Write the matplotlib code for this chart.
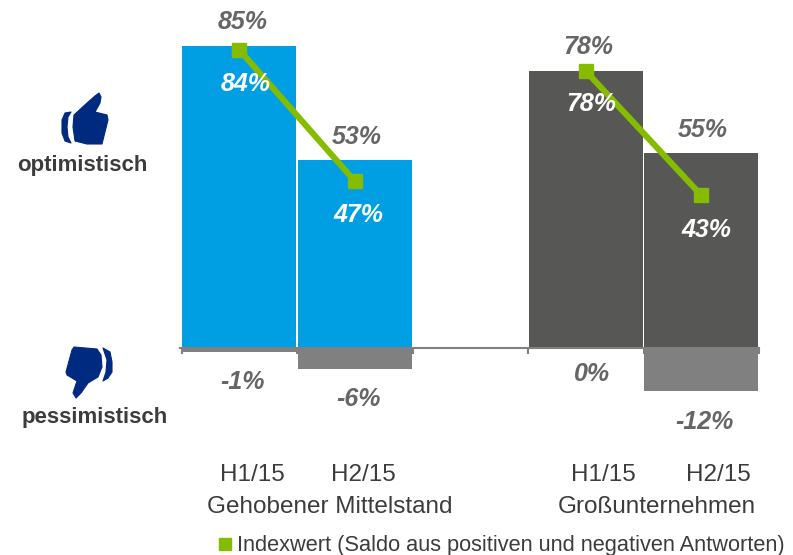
import matplotlib
matplotlib.use('Agg')
import matplotlib.pyplot as plt
from matplotlib.lines import Line2D
from matplotlib.patches import Polygon

plt.rcParams['font.family'] = ['Liberation Sans', 'DejaVu Sans']

# data
periods = ['H1/15', 'H2/15', 'H1/15', 'H2/15']
groups = ['Gehobener Mittelstand', 'Großunternehmen']
positions = [0, 1, 3, 4]
optimistic = [85, 53, 78, 55]
pessimistic = [-1, -6, 0, -12]
index_values = [84, 47, 78, 43]

BLUE = '#009FE3'
DARK = '#575756'
GREY = '#808080'
GREEN = '#85BC00'
NAVY = '#002A7F'
LABEL = '#666666'
TEXT = '#3C3C3C'

fig = plt.figure(figsize=(7.93, 5.55), dpi=100)
ax = fig.add_axes([0, 0, 1, 1])
ax.set_xlim(-239.3 / 115.5, (793 - 239.3) / 115.5)
ax.set_ylim(-207 / 3.55, 348 / 3.55)
ax.patch.set_alpha(0)

# bars
width = 0.988
ax.bar(positions, optimistic, width=width, color=[BLUE, BLUE, DARK, DARK])
ax.bar(positions, pessimistic, width=width, color=GREY)

# axis line through zero with ticks between the categories
for side in ['top', 'left', 'right']:
    ax.spines[side].set_visible(False)
ax.spines['bottom'].set_position(('data', 0))
ax.spines['bottom'].set_color(GREY)
ax.spines['bottom'].set_linewidth(1.5)
ax.spines['bottom'].set_bounds(-0.51, 4.5)
ax.set_xticks([-0.5, 0.5, 1.5, 2.5, 3.5, 4.5])
ax.set_xticklabels([])
ax.set_yticks([])
ax.tick_params(axis='x', direction='out', length=4, width=1.5, color=GREY)

# index lines, one per group
for i in [0, 2]:
    ax.plot(positions[i:i + 2], index_values[i:i + 2], color=GREEN, lw=4.4,
            marker='s', ms=9.5, solid_capstyle='butt', zorder=5)

# value labels, offsets in pixels from the bar / point
label_style = dict(textcoords='offset pixels', ha='center', va='center', fontsize=18,
                   fontweight='bold', fontstyle='italic', zorder=6)
opt_dx = [3, 2, 2, 1]
opt_dy = [24, 23, 24, 23]
for x, v, dx, dy in zip(positions, optimistic, opt_dx, opt_dy):
    ax.annotate(f'{v}%', (x, v), xytext=(dx, dy), color=LABEL, **label_style)
idx_dx = [6, 4, 5, 5]
idx_dy = [-34, -34, -33, -35]
for x, v, dx, dy in zip(positions, index_values, idx_dx, idx_dy):
    ax.annotate(f'{v}%', (x, v), xytext=(dx, dy), color='white', **label_style)
neg_dx = [3, 4, 6, 3]
neg_dy = [-30, -30, -26, -31]
for x, v, dx, dy in zip(positions, pessimistic, neg_dx, neg_dy):
    ax.annotate(f'{v}%', (x, v), xytext=(dx, dy), color=LABEL, **label_style)

# period and group labels below the chart
axis_tf = ax.get_xaxis_transform()
period_dx = [13, 9, 18, 17]
for x, name, dx in zip(positions, periods, period_dx):
    ax.annotate(name, (x, 0), xycoords=axis_tf, xytext=(dx, 80), textcoords='offset pixels',
                ha='center', va='center', fontsize=17.5, color=TEXT)
for x, name in zip([0.5, 3.5], groups):
    ax.annotate(name, (x, 0), xycoords=axis_tf, xytext=(33 if x < 1 else 13, 48),
                textcoords='offset pixels', ha='center', va='center', fontsize=17.5, color=TEXT)

# legend
handle = Line2D([], [], color=GREEN, marker='s', ms=8.5, ls='none')
ax.legend([handle], ['Indexwert (Saldo aus positiven und negativen Antworten)'],
          loc='center left', bbox_to_anchor=(218 / 793, 9 / 555), frameon=False,
          fontsize=15.7, handlelength=0.6, handletextpad=0.25, borderpad=0, borderaxespad=0,
          labelcolor=TEXT)

# left side icons and labels, drawn in pixel space
px = fig.add_axes([0, 0, 1, 1])
px.set_xlim(0, 793)
px.set_ylim(555, 0)
px.axis('off')

thumb_up = [(74, 115), (87, 103), (95, 96), (99, 93), (101, 97), (100, 103), (95, 112), (107, 115),
            (108, 120), (102, 144), (87, 144), (75, 141), (73, 127)]
cuff_up = [(71, 112), (65, 113), (62, 120), (62, 133), (65, 141), (71, 143), (68, 137),
           (67, 127), (68, 117)]
thumb_down = [(74, 347), (97, 349), (101, 355), (102, 367), (98, 377), (88, 383), (81, 393),
              (76, 398), (73, 393), (77, 381), (67, 375), (66, 372), (72, 350)]
cuff_down = [(103, 348), (110, 352), (112, 362), (112, 372), (108, 378), (103, 381),
             (106, 372), (107, 360)]
for pts in [thumb_up, cuff_up, thumb_down, cuff_down]:
    px.add_patch(Polygon(pts, closed=True, facecolor=NAVY, edgecolor=NAVY, lw=0.8, joinstyle='round'))

px.text(82, 166, 'optimistisch', ha='center', va='center', fontsize=16,
        fontweight='bold', color=TEXT)
px.text(95, 417, 'pessimistisch', ha='center', va='center', fontsize=16,
        fontweight='bold', color=TEXT)

fig.savefig('out.png', dpi=100)
